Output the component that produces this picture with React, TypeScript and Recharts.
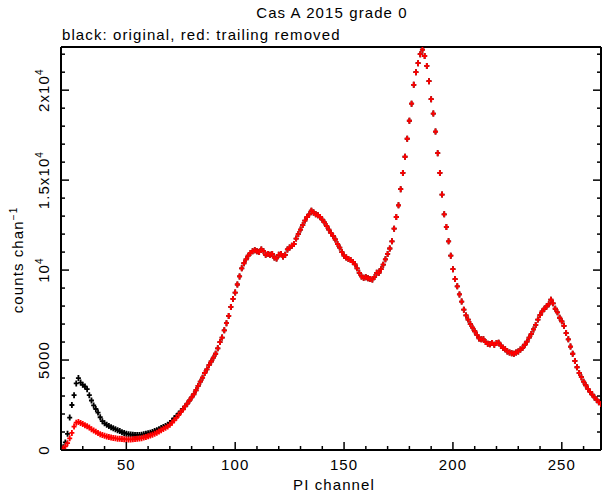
import React from 'react';
import { ScatterChart, Scatter, XAxis, YAxis } from 'recharts';

const FONT = '"Liberation Sans", Arial, Helvetica, sans-serif';
const SPACING = 1.1;

// PI channels 20..268, one point per channel
const CH_START = 20;
const CH_END = 268;

// channels 20-79, where the two spectra differ
const blackLowCounts = [
  40, 150, 420, 900, 1800, 2500, 3050, 3700, 4000, 3750,
  3620, 3530, 3380, 3050, 2750, 2480, 2280, 2080, 1820, 1600,
  1480, 1400, 1330, 1270, 1210, 1160, 1100, 1050, 990, 950,
  910, 880, 860, 850, 840, 830, 840, 850, 870, 900,
  930, 960, 1000, 1050, 1100, 1160, 1220, 1280, 1340, 1400,
  1500, 1620, 1760, 1880, 2020, 2150, 2280, 2420, 2580, 2750,
];

const redLowCounts = [
  30, 80, 200, 380, 650, 950, 1300, 1520, 1560, 1500,
  1450, 1380, 1320, 1250, 1150, 1080, 1010, 940, 880, 830,
  790, 750, 720, 690, 670, 650, 630, 620, 610, 600,
  590, 590, 590, 595, 605, 620, 640, 660, 690, 720,
  760, 800, 850, 900, 960, 1030, 1100, 1170, 1240, 1310,
  1400, 1520, 1650, 1790, 1940, 2100, 2250, 2420, 2580, 2750,
];

// channels 80-268, where both spectra overlap
const sharedCounts = [
  2920, 3100, 3320, 3560, 3800, 4020, 4280, 4480, 4720, 4920,
  5130, 5350, 5650, 6000, 6250, 6650, 7050, 7450, 7950, 8400,
  8750, 9200, 9650, 10100, 10380, 10600, 10800, 10950, 11050, 11100,
  11050, 11000, 11150, 11050, 10850, 10900, 10850, 10900, 10700, 10650,
  10850, 10900, 10750, 10850, 11150, 11250, 11350, 11450, 11750, 12000,
  12250, 12500, 12750, 12950, 13100, 13300, 13200, 13100, 13050, 12950,
  12800, 12650, 12450, 12250, 12050, 11900, 11700, 11450, 11250, 11000,
  10800, 10700, 10620, 10560, 10450, 10320, 10100, 9850, 9650, 9580,
  9600, 9550, 9500, 9480, 9620, 9850, 9850, 10050, 10300, 10600,
  10900, 11200, 11600, 12300, 12950, 13600, 14500, 15400, 16300, 17300,
  18300, 19250, 20300, 21000, 21500, 22000, 22250, 21900, 21350, 20500,
  19500, 18700, 17700, 16500, 15400, 14200, 13100, 12400, 11600, 10800,
  10050, 9500, 9100, 8650, 8250, 7800, 7480, 7250, 7000, 6800,
  6600, 6400, 6200, 6150, 6150, 6000, 5900, 5880, 5950, 5850,
  5950, 5960, 5800, 5680, 5600, 5480, 5420, 5380, 5350, 5420,
  5480, 5580, 5680, 5850, 6020, 6250, 6450, 6700, 6950, 7250,
  7500, 7700, 7850, 7980, 8100, 8350, 8150, 7850, 7650, 7350,
  7150, 6900, 6500, 6150, 5750, 5350, 4950, 4600, 4280, 4050,
  3800, 3600, 3400, 3230, 3080, 2920, 2800, 2650, 2550,
];

const blackCounts = [...blackLowCounts, ...sharedCounts];
const redCounts = [...redLowCounts, ...sharedCounts];

const xTicks = [20, 30, 40, 50, 60, 70, 80, 90, 100, 110, 120, 130, 140, 150, 160, 170, 180, 190, 200, 210, 220, 230, 240, 250, 260];
const xLabelTicks = [50, 100, 150, 200, 250];
const yTicks = [0, 1000, 2000, 3000, 4000, 5000, 6000, 7000, 8000, 9000, 10000, 11000, 12000, 13000, 14000, 15000, 16000, 17000, 18000, 19000, 20000, 21000, 22000];
// [mantissa text, superscript]
const yLabels: Record<number, [string, string]> = {
  0: ['0', ''],
  5000: ['5000', ''],
  10000: ['10', '4'],
  15000: ['1.5x10', '4'],
  20000: ['2x10', '4'],
};

const toPoints = (counts: number[]) => counts.map((v, i) => ({ ch: CH_START + i, v }));
const blackData = toPoints(blackCounts);
const redData = toPoints(redCounts);

const plus = (color: string) => (p: any) => (
  <path
    d={`M${p.cx - 2.5},${p.cy}H${p.cx + 2.5}M${p.cx},${p.cy - 3}V${p.cy + 3}`}
    stroke={color}
    strokeWidth={1.8}
    fill="none"
  />
);

const isMajorX = (v: number) => v % 50 === 0;
const isMajorY = (v: number) => v % 5000 === 0;

function BottomTick({ x, y, payload }: any) {
  const v = payload.value;
  return (
    <g>
      <line x1={x} y1={y} x2={x} y2={y - (isMajorX(v) ? 8 : 4)} stroke="#000" strokeWidth={1.5} />
      {xLabelTicks.includes(v) && (
        <text
          x={x}
          y={y + 20}
          textAnchor="middle"
          fontSize={15}
          letterSpacing={SPACING}
          fontFamily={FONT}
          fill="#000"
        >
          {v}
        </text>
      )}
    </g>
  );
}

function TopTick({ x, y, payload }: any) {
  return <line x1={x} y1={y} x2={x} y2={y + (isMajorX(payload.value) ? 8 : 4)} stroke="#000" strokeWidth={1.5} />;
}

function LeftTick({ x, y, payload }: any) {
  const v = payload.value;
  const lab = yLabels[v];
  return (
    <g>
      <line x1={x} y1={y} x2={x + (isMajorY(v) ? 8 : 4)} y2={y} stroke="#000" strokeWidth={1.5} />
      {lab && (
        <text
          transform={`translate(${x - 12},${y}) rotate(-90)`}
          textAnchor="middle"
          fontSize={15}
          letterSpacing={SPACING}
          fontFamily={FONT}
          fill="#000"
        >
          {lab[0]}
          {lab[1] && (
            <tspan dy={-6} fontSize={10}>
              {lab[1]}
            </tspan>
          )}
        </text>
      )}
    </g>
  );
}

function RightTick({ x, y, payload }: any) {
  return <line x1={x} y1={y} x2={x - (isMajorY(payload.value) ? 8 : 4)} y2={y} stroke="#000" strokeWidth={1.5} />;
}

const axisLine = { stroke: '#000', strokeWidth: 2 };

export default function App() {
  return (
    <div style={{ position: 'relative', width: 602, height: 492, background: '#fff' }}>
      <style>{`body{margin:0;}`}</style>
      <ScatterChart width={602} height={492} margin={{ top: 46, right: 0, bottom: 0, left: 0 }}>
        <XAxis
          xAxisId="b"
          type="number"
          dataKey="ch"
          domain={[CH_START, CH_END]}
          allowDataOverflow
          ticks={xTicks}
          interval={0}
          height={42}
          axisLine={axisLine}
          tickLine={false}
          tickSize={0}
          tickMargin={0}
          tick={<BottomTick />}
        />
        <XAxis
          xAxisId="t"
          orientation="top"
          type="number"
          domain={[CH_START, CH_END]}
          allowDataOverflow
          ticks={xTicks}
          interval={0}
          height={1}
          axisLine={axisLine}
          tickLine={false}
          tickSize={0}
          tickMargin={0}
          tick={<TopTick />}
        />
        <YAxis
          yAxisId="l"
          type="number"
          dataKey="v"
          domain={[0, 22400]}
          allowDataOverflow
          ticks={yTicks}
          interval={0}
          width={61}
          axisLine={axisLine}
          tickLine={false}
          tickSize={0}
          tickMargin={0}
          tick={<LeftTick />}
        />
        <YAxis
          yAxisId="r"
          orientation="right"
          type="number"
          domain={[0, 22400]}
          allowDataOverflow
          ticks={yTicks}
          interval={0}
          width={1}
          axisLine={axisLine}
          tickLine={false}
          tickSize={0}
          tickMargin={0}
          tick={<RightTick />}
        />
        <Scatter
          name="original"
          data={blackData}
          xAxisId="b"
          yAxisId="l"
          shape={plus('#000000')}
          isAnimationActive={false}
        />
        <Scatter
          name="trailing removed"
          data={redData}
          xAxisId="b"
          yAxisId="l"
          shape={plus('#ff0000')}
          isAnimationActive={false}
        />
      </ScatterChart>
      <svg
        width={602}
        height={492}
        style={{ position: 'absolute', left: 0, top: 0, pointerEvents: 'none' }}
        fontFamily={FONT}
        fill="#000"
        letterSpacing={SPACING}
      >
        <text x={332} y={18} textAnchor="middle" fontSize={15}>
          Cas A 2015 grade 0
        </text>
        <text x={62} y={40} fontSize={15}>
          black: original, red: trailing removed
        </text>
        <text x={334} y={490} textAnchor="middle" fontSize={15}>
          PI channel
        </text>
        <text transform="translate(23,260) rotate(-90)" textAnchor="middle" fontSize={15}>
          counts chan
          <tspan dy={-6} fontSize={10}>
            −1
          </tspan>
        </text>
      </svg>
    </div>
  );
}
